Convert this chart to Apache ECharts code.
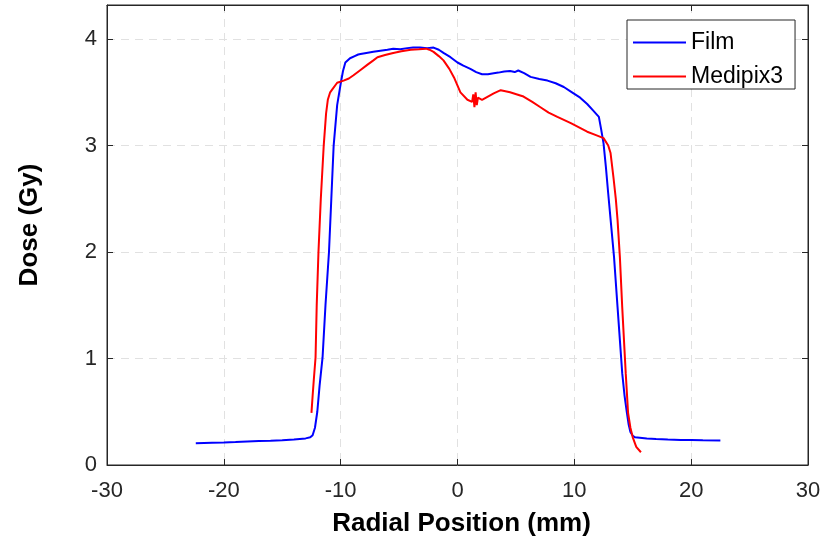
<!DOCTYPE html>
<html>
<head>
<meta charset="utf-8">
<script src="https://cdn.jsdelivr.net/npm/echarts@6/dist/echarts.min.js"></script>
<style>html,body{margin:0;padding:0;background:#fff}#c{width:826px;height:547px}</style>
</head>
<body>
<div id="c"></div>
<script>
const xTicks = [-30, -20, -10, 0, 10, 20, 30];
const yTicks = [0, 1, 2, 3, 4];
const seriesNames = ['Film', 'Medipix3'];

const filmData = [
[-22.4,0.205],[-21,0.21],[-20,0.212],[-19,0.215],[-18,0.22],[-17,0.225],[-16,0.228],[-15,0.232],[-14,0.24],[-13,0.25],[-12.6,0.26],[-12.4,0.28],[-12.2,0.35],[-12.0,0.5],[-11.8,0.75],[-11.55,1.01],[-11.3,1.5],[-11.0,2.0],[-10.8,2.5],[-10.6,3.0],[-10.3,3.38],[-10.0,3.58],[-9.8,3.7],[-9.6,3.78],[-9.2,3.82],[-8.8,3.84],[-8.5,3.855],[-8.3,3.86],[-7.8,3.87],[-7.2,3.88],[-6.6,3.89],[-6.0,3.9],[-5.5,3.91],[-4.9,3.905],[-4.3,3.915],[-3.8,3.92],[-3.2,3.92],[-2.6,3.915],[-2.05,3.92],[-1.6,3.9],[-1.2,3.87],[-0.6,3.83],[0,3.78],[0.5,3.75],[1.1,3.72],[1.6,3.69],[2.1,3.67],[2.6,3.67],[3.1,3.68],[3.5,3.685],[4.0,3.695],[4.5,3.70],[4.9,3.69],[5.2,3.705],[5.7,3.68],[6.25,3.645],[7.0,3.625],[7.7,3.61],[8.4,3.585],[9.1,3.55],[9.8,3.5],[10.5,3.45],[11.1,3.39],[11.6,3.33],[12.1,3.27],[12.3,3.15],[12.5,3.02],[12.7,2.8],[12.9,2.55],[13.15,2.25],[13.4,1.95],[13.7,1.48],[14.1,0.86],[14.3,0.65],[14.5,0.49],[14.65,0.38],[14.8,0.31],[15.0,0.275],[15.2,0.26],[16.2,0.25],[17,0.245],[18,0.24],[19.1,0.235],[20,0.235],[21,0.232],[22.5,0.23]
];

const medipixData = [
[-12.5,0.49],[-12.4,0.65],[-12.3,0.8],[-12.15,1.01],[-12.05,1.5],[-11.9,2.0],[-11.7,2.5],[-11.45,3.0],[-11.25,3.3],[-11.1,3.43],[-10.9,3.5],[-10.7,3.53],[-10.3,3.59],[-9.75,3.61],[-9.3,3.63],[-8.9,3.66],[-8.3,3.71],[-7.7,3.76],[-7.2,3.8],[-6.85,3.83],[-6.2,3.85],[-5.5,3.87],[-4.8,3.885],[-4.0,3.9],[-3.3,3.905],[-2.7,3.91],[-2.4,3.9],[-2.05,3.88],[-1.6,3.84],[-1.2,3.8],[-0.7,3.72],[-0.3,3.64],[0.25,3.5],[0.85,3.43],[1.25,3.41],[1.35,3.48],[1.45,3.36],[1.55,3.5],[1.65,3.38],[1.75,3.45],[2.1,3.43],[2.6,3.46],[3.1,3.49],[3.7,3.52],[4.5,3.50],[5.1,3.48],[5.65,3.46],[6.4,3.41],[7.1,3.36],[7.8,3.31],[8.55,3.27],[9.7,3.21],[10.4,3.17],[11.1,3.13],[11.8,3.1],[12.5,3.07],[12.9,3.0],[13.1,2.93],[13.35,2.70],[13.55,2.5],[13.7,2.3],[13.9,1.95],[14.1,1.48],[14.4,0.86],[14.6,0.49],[14.8,0.35],[15.0,0.26],[15.3,0.17],[15.7,0.12]
];

const axisColor = '#262626';
const font = '"Liberation Sans", Arial, Helvetica, sans-serif';
const gridLine = {show: true, lineStyle: {color: '#e1e1e1', width: 1, type: [8, 6]}};

const chart = echarts.init(document.getElementById('c'), null, {renderer: 'canvas'});
chart.setOption({
  animation: false,
  backgroundColor: '#fff',
  grid: {left: 107, right: 18, top: 5, bottom: 82, show: true, borderColor: axisColor, borderWidth: 1, backgroundColor: 'transparent'},
  legend: {
    orient: 'vertical', left: 627, top: 20,
    data: seriesNames,
    icon: 'rect', itemWidth: 53, itemHeight: 2, itemGap: 11,
    padding: [11, 12, 1, 6],
    borderColor: axisColor, borderWidth: 1, backgroundColor: '#fff',
    textStyle: {fontFamily: font, fontSize: 23, color: '#000', lineHeight: 20}
  },
  xAxis: [{
    type: 'value', min: -30, max: 30, interval: 10,
    name: 'Radial Position (mm)', nameLocation: 'middle', nameGap: 46,
    nameTextStyle: {fontFamily: font, fontSize: 26, fontWeight: 'bold', color: '#000', padding: [0, 0, 0, 8]},
    axisLine: {show: true, onZero: false, lineStyle: {color: axisColor, width: 1}},
    axisTick: {show: true, inside: true, length: 6, lineStyle: {color: axisColor}},
    axisLabel: {fontFamily: font, fontSize: 22, color: axisColor, margin: 15,
      formatter: v => xTicks.includes(v) ? String(v) : ''},
    splitLine: gridLine
  }, {
    type: 'value', min: -30, max: 30, interval: 10, position: 'top',
    axisLine: {show: true, onZero: false, lineStyle: {color: axisColor}},
    axisTick: {show: true, inside: true, length: 6, lineStyle: {color: axisColor}},
    axisLabel: {show: false}, splitLine: {show: false}
  }],
  yAxis: [{
    type: 'value', min: 0, max: 4.32, interval: 1,
    name: 'Dose (Gy)', nameLocation: 'middle', nameGap: 64,
    nameTextStyle: {fontFamily: font, fontSize: 26, fontWeight: 'bold', color: '#000', padding: [0, 0, 0, 20]},
    axisLine: {show: true, onZero: false, lineStyle: {color: axisColor, width: 1}},
    axisTick: {show: true, inside: true, length: 6, lineStyle: {color: axisColor}},
    axisLabel: {fontFamily: font, fontSize: 22, color: axisColor, margin: 10, showMaxLabel: false,
      formatter: v => yTicks.includes(v) ? String(v) : ''},
    splitLine: gridLine
  }, {
    type: 'value', min: 0, max: 4.32, interval: 1, position: 'right',
    axisLine: {show: true, onZero: false, lineStyle: {color: axisColor}},
    axisTick: {show: true, inside: true, length: 6, lineStyle: {color: axisColor}},
    axisLabel: {show: false}, splitLine: {show: false}
  }],
  series: [
    {name: seriesNames[0], type: 'line', data: filmData, showSymbol: false, symbol: 'none',
     lineStyle: {color: '#0000ff', width: 2}, itemStyle: {color: '#0000ff'}, z: 3},
    {name: seriesNames[1], type: 'line', data: medipixData, showSymbol: false, symbol: 'none',
     lineStyle: {color: '#ff0000', width: 2}, itemStyle: {color: '#ff0000'}, z: 4}
  ]
});
</script>
</body>
</html>
